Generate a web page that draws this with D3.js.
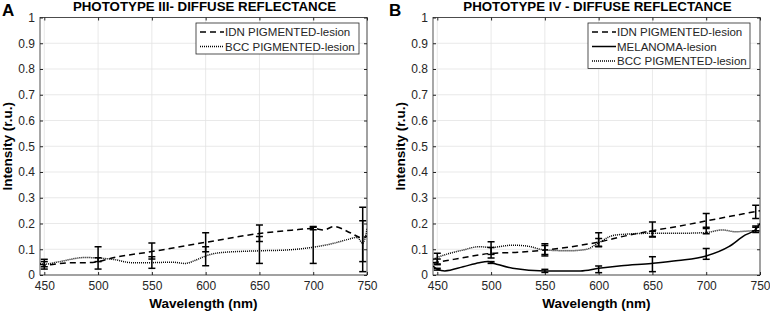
<!DOCTYPE html>
<html>
<head>
<meta charset="utf-8">
<script src="https://cdn.jsdelivr.net/npm/d3@7"></script>
<style>
  body { margin: 0; background: #fff; }
  text { font-family: "Liberation Sans", Arial, sans-serif; }
</style>
</head>
<body>
<div id="chart"></div>
<script>
// Axis ticks
const xTicks = [450, 500, 550, 600, 650, 700, 750];
const yTicks = [0, 0.1, 0.2, 0.3, 0.4, 0.5, 0.6, 0.7, 0.8, 0.9, 1];
const errWl = [450, 500, 550, 600, 650, 700, 746];

// Panel A - phototype III
const aIdnWl = [446, 450, 475, 490, 500, 512, 550, 600, 650, 680, 700, 710, 719, 735, 744, 750];
const aIdnVal = [0.042, 0.039, 0.048, 0.048, 0.052, 0.065, 0.091, 0.127, 0.161, 0.174, 0.181, 0.175, 0.188, 0.163, 0.146, 0.15];
const aBccWl = [446, 450, 463, 488, 500, 515, 531, 550, 568, 581, 591, 600, 614, 650, 675, 700, 719, 732, 741, 746, 748, 750];
const aBccVal = [0.045, 0.042, 0.051, 0.068, 0.066, 0.06, 0.048, 0.048, 0.05, 0.045, 0.058, 0.074, 0.087, 0.094, 0.097, 0.108, 0.123, 0.138, 0.146, 0.123, 0.14, 0.18];
const aIdnLo = [0.032, 0.052, 0.062, 0.09, 0.13, 0.176, 0.052];
const aIdnHi = [0.052, 0.067, 0.124, 0.164, 0.194, 0.188, 0.211];
const aBccLo = [0.023, 0.023, 0.026, 0.036, 0.045, 0.045, 0.013];
const aBccHi = [0.061, 0.11, 0.071, 0.11, 0.15, 0.185, 0.263];

// Panel B - phototype IV
const bIdnWl = [446, 450, 475, 500, 525, 550, 575, 600, 625, 650, 675, 700, 725, 750];
const bIdnVal = [0.048, 0.05, 0.068, 0.084, 0.088, 0.097, 0.11, 0.128, 0.152, 0.172, 0.19, 0.21, 0.23, 0.25];
const bMelWl = [446, 450, 457, 474, 489, 497, 503, 520, 550, 583, 600, 621, 649, 674, 700, 721, 736, 746, 750];
const bMelVal = [0.035, 0.023, 0.016, 0.032, 0.048, 0.052, 0.045, 0.026, 0.016, 0.016, 0.026, 0.036, 0.045, 0.056, 0.074, 0.11, 0.155, 0.177, 0.2];
const bBccWl = [446, 450, 474, 489, 500, 520, 534, 550, 573, 589, 600, 615, 649, 675, 700, 715, 727, 746, 750];
const bBccVal = [0.061, 0.068, 0.097, 0.11, 0.107, 0.116, 0.112, 0.097, 0.094, 0.1, 0.125, 0.155, 0.162, 0.162, 0.165, 0.175, 0.168, 0.172, 0.17];
const bIdnLo = [0.04, 0.066, 0.074, 0.112, 0.148, 0.181, 0.219];
const bIdnHi = [0.062, 0.107, 0.121, 0.164, 0.206, 0.239, 0.271];
const bMelLo = [0.019, 0.045, 0.01, 0.009, 0.013, 0.061, 0.172];
const bMelHi = [0.026, 0.052, 0.022, 0.035, 0.071, 0.103, 0.19];
const bBccLo = [0.043, 0.08, 0.08, 0.11, 0.15, 0.16, 0.165];
const bBccHi = [0.084, 0.129, 0.115, 0.142, 0.17, 0.185, 0.185];

const dashes = { idn: '6,4', mel: null, bcc: '1,1' };
const axisColor = '#262626';

const svg = d3.select('#chart').append('svg')
	.attr('width', 770)
	.attr('height', 312);

const zip = (xs, ys) => xs.map((x, i) => ({ x: x, y: ys[i] }));

const drawPanel = (opts) => {
	const left = opts.left, right = opts.right, top = 17.5, bottom = 275;
	const x = d3.scaleLinear().domain([446, 750]).range([left, right]);
	const y = d3.scaleLinear().domain([0, 1]).range([bottom, top]);
	const g = svg.append('g');

	// Grid
	g.selectAll('.gx').data(xTicks).enter().append('line')
		.attr('x1', d => x(d)).attr('x2', d => x(d))
		.attr('y1', top).attr('y2', bottom)
		.attr('stroke', '#e3e3e3').attr('stroke-width', 0.8);
	g.selectAll('.gy').data(yTicks).enter().append('line')
		.attr('x1', left).attr('x2', right)
		.attr('y1', d => y(d)).attr('y2', d => y(d))
		.attr('stroke', '#e3e3e3').attr('stroke-width', 0.8);

	// Axes (ticks inward)
	const fmt = d => d === 0 ? '0' : d === 1 ? '1' : d3.format('.1f')(d);
	const styleAxis = (sel) => {
		sel.select('.domain').remove();
		sel.selectAll('line').attr('stroke', axisColor);
		sel.selectAll('text').attr('fill', axisColor).style('font-size', '12px');
	};
	g.append('g').attr('transform', `translate(0,${bottom})`)
		.call(d3.axisBottom(x).tickValues(xTicks).tickSize(-3).tickPadding(6))
		.call(styleAxis);
	g.append('g').attr('transform', `translate(0,${top})`)
		.call(d3.axisTop(x).tickValues(xTicks).tickSize(-3).tickFormat(''))
		.call(styleAxis);
	g.append('g').attr('transform', `translate(${left},0)`)
		.call(d3.axisLeft(y).tickValues(yTicks).tickSize(-3).tickPadding(5).tickFormat(fmt))
		.call(styleAxis);
	g.append('g').attr('transform', `translate(${right},0)`)
		.call(d3.axisRight(y).tickValues(yTicks).tickSize(-3).tickFormat(''))
		.call(styleAxis);
	g.append('rect')
		.attr('x', left).attr('y', top)
		.attr('width', right - left).attr('height', bottom - top)
		.attr('fill', 'none').attr('stroke', axisColor).attr('stroke-width', 0.8);

	// Clip
	const clipId = 'clip-' + opts.letter;
	svg.append('clipPath').attr('id', clipId).append('rect')
		.attr('x', left).attr('y', top).attr('width', right - left).attr('height', bottom - top);

	const line = d3.line().x(d => x(d.x)).y(d => y(d.y)).curve(d3.curveMonotoneX);
	const plot = g.append('g').attr('clip-path', `url(#${clipId})`);

	opts.series.forEach(s => {
		plot.append('path')
			.datum(zip(s.wl, s.val))
			.attr('d', line)
			.attr('fill', 'none')
			.attr('stroke', '#000')
			.attr('stroke-width', 1.5)
			.attr('stroke-dasharray', dashes[s.kind]);

		// Error bars
		const eb = plot.append('g').selectAll('g')
			.data(errWl.map((w, i) => ({ w: w, lo: s.lo[i], hi: s.hi[i] })))
			.enter().append('g');
		eb.append('line')
			.attr('x1', d => x(d.w)).attr('x2', d => x(d.w))
			.attr('y1', d => y(d.lo)).attr('y2', d => y(d.hi))
			.attr('stroke', '#000').attr('stroke-width', 1.5);
		['lo', 'hi'].forEach(k => {
			eb.append('line')
				.attr('x1', d => x(d.w) - 3.5).attr('x2', d => x(d.w) + 3.5)
				.attr('y1', d => y(d[k])).attr('y2', d => y(d[k]))
				.attr('stroke', '#000').attr('stroke-width', 1.5);
		});
	});

	// Legend
	const lg = g.append('g');
	const rowH = 14.5;
	lg.append('rect')
		.attr('x', opts.legX).attr('y', 23)
		.attr('width', opts.legW).attr('height', opts.series.length * rowH + 2)
		.attr('fill', '#fff').attr('stroke', axisColor).attr('stroke-width', 0.8);
	opts.series.forEach((s, i) => {
		const ly = 32 + i * rowH;
		lg.append('line')
			.attr('x1', opts.legX + 4).attr('x2', opts.legX + 28)
			.attr('y1', ly).attr('y2', ly)
			.attr('stroke', '#000').attr('stroke-width', 1.5)
			.attr('stroke-dasharray', dashes[s.kind]);
		lg.append('text')
			.attr('x', opts.legX + 29).attr('y', ly + 4)
			.attr('fill', axisColor)
			.style('font-size', '11.5px')
			.text(s.name);
	});

	// Titles and labels
	g.append('text')
		.attr('x', (left + right) / 2 + 1).attr('y', 11)
		.attr('text-anchor', 'middle')
		.style('font-size', '13.3px').style('font-weight', 'bold')
		.text(opts.title);
	g.append('text')
		.attr('x', opts.letterX).attr('y', 15.5)
		.style('font-size', '17px').style('font-weight', 'bold')
		.text(opts.letter);
	g.append('text')
		.attr('x', (left + right) / 2).attr('y', 308)
		.attr('text-anchor', 'middle')
		.style('font-size', '13.5px').style('font-weight', 'bold')
		.text('Wavelength (nm)');
	g.append('text')
		.attr('transform', `translate(${left - 28},${(top + bottom) / 2}) rotate(-90)`)
		.attr('text-anchor', 'middle')
		.style('font-size', '13.5px').style('font-weight', 'bold')
		.text('Intensity (r.u.)');
};

drawPanel({
	letter: 'A', letterX: 2, left: 40, right: 367, legX: 196, legW: 163,
	title: 'PHOTOTYPE III- DIFFUSE REFLECTANCE',
	series: [
		{ name: 'IDN PIGMENTED-lesion', kind: 'idn', wl: aIdnWl, val: aIdnVal, lo: aIdnLo, hi: aIdnHi },
		{ name: 'BCC PIGMENTED-lesion', kind: 'bcc', wl: aBccWl, val: aBccVal, lo: aBccLo, hi: aBccHi }
	]
});

drawPanel({
	letter: 'B', letterX: 389, left: 433, right: 760, legX: 588, legW: 162,
	title: 'PHOTOTYPE IV - DIFFUSE REFLECTANCE',
	series: [
		{ name: 'IDN PIGMENTED-lesion', kind: 'idn', wl: bIdnWl, val: bIdnVal, lo: bIdnLo, hi: bIdnHi },
		{ name: 'MELANOMA-lesion', kind: 'mel', wl: bMelWl, val: bMelVal, lo: bMelLo, hi: bMelHi },
		{ name: 'BCC PIGMENTED-lesion', kind: 'bcc', wl: bBccWl, val: bBccVal, lo: bBccLo, hi: bBccHi }
	]
});
</script>
</body>
</html>
